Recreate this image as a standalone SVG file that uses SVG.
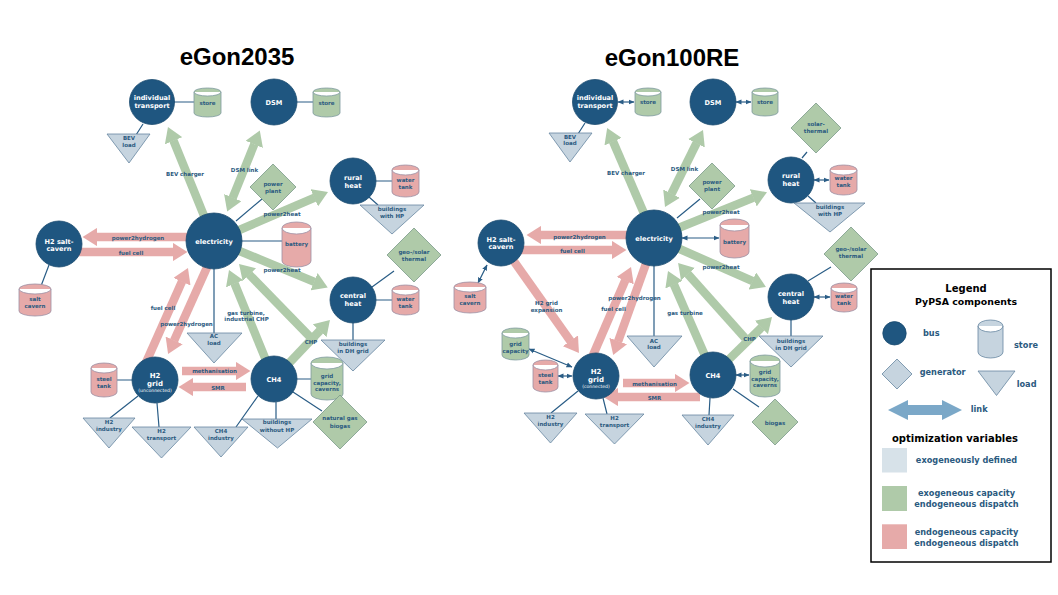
<svg xmlns="http://www.w3.org/2000/svg" width="1058" height="595" viewBox="0 0 1058 595">
<defs>
<style>
.bus{fill:#1f5680;stroke:#1a4b70;stroke-width:.8}
.gen{fill:#afcaa9;stroke:#7b9a8a;stroke-width:.8}
.load{fill:#c6d4df;stroke:#6787a1;stroke-width:.8}
.sg{fill:#afcaa9;stroke:#7f9aa0;stroke-width:.8}
.sp{fill:#e6aaa9;stroke:#9c8fa3;stroke-width:.8}
.ln{fill:none;stroke:#2a5d86;stroke-width:1.2}
.dbl{marker-start:url(#md);marker-end:url(#md)}
.ag{fill:none;stroke:#afcaa9;stroke-width:8.5;marker-end:url(#hg)}
.ag2{marker-start:url(#hg)}
.ap{fill:none;stroke:#e6aaa9;stroke-width:8.5;marker-end:url(#hp)}
text{font-family:"DejaVu Sans",Verdana,sans-serif;font-weight:bold;text-anchor:middle}
.t{font-size:5.5px;fill:#2b5a80}
.tb{font-size:6.6px;fill:#fff}
.ts{font-size:5px;font-weight:normal;fill:#fff}
.title{font-family:"Liberation Sans",Arial,sans-serif;font-size:24px;fill:#000}
.lg{font-size:8.2px;fill:#2b5a80}
.lh{font-size:10px;fill:#000}
</style>
<marker id="hg" markerUnits="strokeWidth" markerWidth="1.8" markerHeight="2.2" viewBox="0 0 1.8 2.2" refX="0.05" refY="1.1" orient="auto-start-reverse"><path d="M0,0 L1.75,1.1 L0,2.2z" fill="#afcaa9"/></marker>
<marker id="hp" markerUnits="strokeWidth" markerWidth="1.8" markerHeight="2.2" viewBox="0 0 1.8 2.2" refX="0.05" refY="1.1" orient="auto-start-reverse"><path d="M0,0 L1.75,1.1 L0,2.2z" fill="#e6aaa9"/></marker>
<marker id="md" markerUnits="userSpaceOnUse" markerWidth="6" markerHeight="6" viewBox="0 0 6 6" refX="5.5" refY="3" orient="auto-start-reverse"><path d="M0,0.5 L6,3 L0,5.5z" fill="#2a5d86"/></marker>
</defs>
<rect width="1058" height="595" fill="#fff"/>
<text class="title" x="237" y="65">eGon2035</text>
<text class="title" x="672" y="66">eGon100RE</text>

<g id="connectors">
<!-- left -->
<path class="ag" d="M211,233 L173.4,140.4"/>
<path class="ag ag2" d="M232.6,198 L254.4,144"/>
<path class="ag" d="M230,234 L314.7,197.7"/>
<path class="ag" d="M225,245 L314.4,281.9"/>
<path class="ag" d="M270,370 L234.5,283.4"/>
<path class="ag" d="M315,342 L249.1,274.4"/>
<path class="ag" d="M274,379 L320,330.5"/>
<path class="ap" d="M200,237 L97,237"/>
<path class="ap" d="M60,252 L173,252"/>
<path class="ap" d="M140,376 L182.1,281.3"/>
<path class="ap" d="M213,254 L174,340.8"/>
<path class="ap" d="M182,371 L236,371"/>
<path class="ap" d="M246,387 L193,387"/>
<path class="ln" d="M174,102 H194 M143,124 L136,135 M297,102 H313 M262,199 L236,221 M376,181 H392 M369,197 L378,205 M242,241 H282 M372,287 L394,271 M376,300 H392 M353,323 V340 M214,269 V333 M49,265 L41,286 M117,380 H132 M138,396 L110,418 M157,403 L159,427 M258,396 L236,427 M276,402 V419 M297,379 H311 M293,392 L322,411"/>
<!-- right -->
<path class="ag" d="M652,232 L612.9,141.3"/>
<path class="ag ag2" d="M671.4,194 L696.6,143"/>
<path class="ag" d="M666,233 L753.6,197.6"/>
<path class="ag" d="M666,243 L752.7,281.1"/>
<path class="ag" d="M710,367 L673.8,284.3"/>
<path class="ag" d="M745,338 L687.7,273.8"/>
<path class="ag" d="M713,375 L761.7,327.2"/>
<path class="ap" d="M640,235 L541,235"/>
<path class="ap" d="M502,250 L612,250"/>
<path class="ap" d="M501,243 L570.6,341.2"/>
<path class="ap" d="M584,376 L625.3,280.3"/>
<path class="ap" d="M650,252.6 L618.1,341.4"/>
<path class="ap" d="M623,383 L675,383"/>
<path class="ap" d="M700,397 L618,397"/>
<path class="ln dbl" d="M618,102 H634"/>
<path class="ln dbl" d="M736,102 H751"/>
<path class="ln dbl" d="M814,180 H829"/>
<path class="ln dbl" d="M682,238 H719"/>
<path class="ln dbl" d="M814,297 H830"/>
<path class="ln dbl" d="M487,265 L478,283"/>
<path class="ln dbl" d="M529,349 L572,367"/>
<path class="ln dbl" d="M558,376 H572"/>
<path class="ln dbl" d="M736,375 H749"/>
<path class="ln" d="M585,123 L578,134 M807,152 L802,158 M808,196 L816,203 M700,199 L677,218 M808,281 L831,267 M791,320 V336 M654,266 V336 M578,391 L551,413 M603,398 L607,414 M733,389 L759,407 M710,398 L709,415"/>
</g>

<!-- LEFT NODES -->
<g id="l-individual-transport"><circle class="bus" cx="152" cy="102" r="22.5"/><text class="tb" x="152" y="100">individual</text><text class="tb" x="152" y="108">transport</text></g>
<g id="l-store1"><path class="sg" d="M194,92 A13.5,4 0 0 1 221,92 V113 A13.5,4 0 0 1 194,113 Z M194,92 A13.5,4 0 0 0 221,92"/><text class="t" x="207.5" y="105">store</text></g>
<g id="l-bev-load"><polygon class="load" points="107,134 150,134 129,163"/><text class="t" x="129" y="139.5">BEV</text><text class="t" x="129" y="146.5">load</text></g>
<g id="l-dsm"><circle class="bus" cx="274" cy="102" r="23"/><text class="tb" x="274" y="104.5">DSM</text></g>
<g id="l-store2"><path class="sg" d="M313,92 A13.5,4 0 0 1 340,92 V113 A13.5,4 0 0 1 313,113 Z M313,92 A13.5,4 0 0 0 340,92"/><text class="t" x="326.5" y="105">store</text></g>
<g id="l-power-plant"><polygon class="gen" points="273,164 296,187 273,210 250,187"/><text class="t" x="273" y="186.3">power</text><text class="t" x="273" y="192.7">plant</text></g>
<g id="l-rural-heat"><circle class="bus" cx="353" cy="181" r="23"/><text class="tb" x="353" y="179.8">rural</text><text class="tb" x="353" y="187.8">heat</text></g>
<g id="l-water-tank1"><path class="sp" d="M392,170 A13.5,5 0 0 1 419,170 V192 A13.5,5 0 0 1 392,192 Z M392,170 A13.5,5 0 0 0 419,170"/><text class="t" x="405.5" y="182">water</text><text class="t" x="405.5" y="188.7">tank</text></g>
<g id="l-buildings-hp"><polygon class="load" points="360,205 424,205 392,234"/><text class="t" x="392" y="210.7">buildings</text><text class="t" x="392" y="217.7">with HP</text></g>
<g id="l-electricity"><circle class="bus" cx="214" cy="241" r="28"/><text class="tb" x="214" y="243.5">electricity</text></g>
<g id="l-battery"><path class="sp" d="M282,228 A14.5,6 0 0 1 311,228 V261 A14.5,6 0 0 1 282,261 Z M282,228 A14.5,6 0 0 0 311,228"/><text class="t" x="296.5" y="246">battery</text></g>
<g id="l-geo-solar"><polygon class="gen" points="414,228 441,255 414,282 387,255"/><text class="t" x="414" y="254.3">geo-/solar</text><text class="t" x="414" y="260.7">thermal</text></g>
<g id="l-h2-salt-cavern"><circle class="bus" cx="59" cy="244" r="23"/><text class="tb" x="59" y="243.5">H2 salt-</text><text class="tb" x="59" y="250.8">cavern</text></g>
<g id="l-salt-cavern"><path class="sp" d="M19,289 A16,5 0 0 1 51,289 V311 A16,5 0 0 1 19,311 Z M19,289 A16,5 0 0 0 51,289"/><text class="t" x="35" y="301.3">salt</text><text class="t" x="35" y="308">cavern</text></g>
<g id="l-central-heat"><circle class="bus" cx="353" cy="300" r="23"/><text class="tb" x="353" y="298">central</text><text class="tb" x="353" y="306">heat</text></g>
<g id="l-water-tank2"><path class="sp" d="M392,290 A13.5,5 0 0 1 419,290 V310 A13.5,5 0 0 1 392,310 Z M392,290 A13.5,5 0 0 0 419,290"/><text class="t" x="405.5" y="301">water</text><text class="t" x="405.5" y="307.7">tank</text></g>
<g id="l-buildings-dh"><polygon class="load" points="321,340 385,340 353,371"/><text class="t" x="353" y="346">buildings</text><text class="t" x="353" y="353">in DH grid</text></g>
<g id="l-ac-load"><polygon class="load" points="187,333 242,333 214,363"/><text class="t" x="214" y="338">AC</text><text class="t" x="214" y="344.7">load</text></g>
<g id="l-h2-grid"><circle class="bus" cx="155" cy="380" r="23"/><text class="tb" x="155" y="378" style="font-size:7px">H2</text><text class="tb" x="155" y="386.3" style="font-size:7px">grid</text><text class="ts" x="155" y="391.5" style="font-size:4.6px">(unconnected)</text></g>
<g id="l-steel-tank"><path class="sp" d="M91,368 A13,5 0 0 1 117,368 V392 A13,5 0 0 1 91,392 Z M91,368 A13,5 0 0 0 117,368"/><text class="t" x="104" y="381.3">steel</text><text class="t" x="104" y="388">tank</text></g>
<g id="l-h2-industry"><polygon class="load" points="83,418 135,418 109,448"/><text class="t" x="109" y="423.7">H2</text><text class="t" x="109" y="430.7">industry</text></g>
<g id="l-h2-transport"><polygon class="load" points="132,427 191,427 161.5,458"/><text class="t" x="161.5" y="433.3">H2</text><text class="t" x="161.5" y="440">transport</text></g>
<g id="l-ch4-industry"><polygon class="load" points="194,427 248,427 221,457"/><text class="t" x="221" y="433.3">CH4</text><text class="t" x="221" y="440">industry</text></g>
<g id="l-ch4"><circle class="bus" cx="274" cy="379" r="23"/><text class="tb" x="274" y="381.8">CH4</text></g>
<g id="l-buildings-without-hp"><polygon class="load" points="242,419 312,419 277.5,448"/><text class="t" x="277" y="424.3">buildings</text><text class="t" x="277" y="431.7">without HP</text></g>
<g id="l-grid-capacity"><path class="sg" d="M311,363 A16,6 0 0 1 343,363 V394 A16,6 0 0 1 311,394 Z M311,363 A16,6 0 0 0 343,363"/><text class="t" x="327" y="378">grid</text><text class="t" x="327" y="384.7">capacity,</text><text class="t" x="327" y="391">caverns</text></g>
<g id="l-natural-gas"><polygon class="gen" points="340,395 367,422 340,449 313,422"/><text class="t" x="340" y="420.3">natural gas</text><text class="t" x="340" y="427.7">biogas</text></g>

<!-- RIGHT NODES -->
<g id="r-individual-transport"><circle class="bus" cx="595" cy="102" r="22.5"/><text class="tb" x="595" y="100">individual</text><text class="tb" x="595" y="108">transport</text></g>
<g id="r-store1"><path class="sg" d="M635,92 A13,4 0 0 1 661,92 V112 A13,4 0 0 1 635,112 Z M635,92 A13,4 0 0 0 661,92"/><text class="t" x="648" y="104">store</text></g>
<g id="r-bev-load"><polygon class="load" points="549,133 592,133 570,162"/><text class="t" x="570" y="138.7">BEV</text><text class="t" x="570" y="145.3">load</text></g>
<g id="r-dsm"><circle class="bus" cx="713" cy="102" r="23"/><text class="tb" x="713" y="104.5">DSM</text></g>
<g id="r-store2"><path class="sg" d="M752,92 A13,4 0 0 1 778,92 V112 A13,4 0 0 1 752,112 Z M752,92 A13,4 0 0 0 778,92"/><text class="t" x="765" y="104">store</text></g>
<g id="r-solar-thermal"><polygon class="gen" points="816,103 841,128 816,153 791,128"/><text class="t" x="816" y="126">solar-</text><text class="t" x="816" y="133">thermal</text></g>
<g id="r-rural-heat"><circle class="bus" cx="791" cy="180" r="23"/><text class="tb" x="791" y="178">rural</text><text class="tb" x="791" y="186">heat</text></g>
<g id="r-water-tank1"><path class="sp" d="M830,170 A13.5,5 0 0 1 857,170 V190 A13.5,5 0 0 1 830,190 Z M830,170 A13.5,5 0 0 0 857,170"/><text class="t" x="843.5" y="180.3">water</text><text class="t" x="843.5" y="187.3">tank</text></g>
<g id="r-buildings-hp"><polygon class="load" points="794,203 865,203 830,232"/><text class="t" x="830" y="209">buildings</text><text class="t" x="830" y="216">with HP</text></g>
<g id="r-power-plant"><polygon class="gen" points="712,163 735,186 712,209 689,186"/><text class="t" x="712" y="184.3">power</text><text class="t" x="712" y="191.3">plant</text></g>
<g id="r-electricity"><circle class="bus" cx="654" cy="238" r="28"/><text class="tb" x="654" y="240.5">electricity</text></g>
<g id="r-battery"><path class="sp" d="M720,225 A14.5,6 0 0 1 749,225 V252 A14.5,6 0 0 1 720,252 Z M720,225 A14.5,6 0 0 0 749,225"/><text class="t" x="734.5" y="244.3">battery</text></g>
<g id="r-geo-solar"><polygon class="gen" points="851,227 878,254 851,281 824,254"/><text class="t" x="851" y="251.3">geo-/solar</text><text class="t" x="851" y="258">thermal</text></g>
<g id="r-h2-salt-cavern"><circle class="bus" cx="501" cy="243" r="23"/><text class="tb" x="501" y="241.5">H2 salt-</text><text class="tb" x="501" y="248.5">cavern</text></g>
<g id="r-salt-cavern"><path class="sp" d="M454,287 A16,5 0 0 1 486,287 V308 A16,5 0 0 1 454,308 Z M454,287 A16,5 0 0 0 486,287"/><text class="t" x="470" y="298">salt</text><text class="t" x="470" y="305.3">cavern</text></g>
<g id="r-central-heat"><circle class="bus" cx="791" cy="297" r="23"/><text class="tb" x="791" y="295.5">central</text><text class="tb" x="791" y="303.5">heat</text></g>
<g id="r-water-tank2"><path class="sp" d="M831,288 A13,5 0 0 1 857,288 V307 A13,5 0 0 1 831,307 Z M831,288 A13,5 0 0 0 857,288"/><text class="t" x="844" y="297.7">water</text><text class="t" x="844" y="304.7">tank</text></g>
<g id="r-buildings-dh"><polygon class="load" points="759,336 823,336 791,367"/><text class="t" x="791" y="342.7">buildings</text><text class="t" x="791" y="349.7">in DH grid</text></g>
<g id="r-ac-load"><polygon class="load" points="627,336 682,336 654,367"/><text class="t" x="654" y="342.7">AC</text><text class="t" x="654" y="349.3">load</text></g>
<g id="r-grid-capacity-h2"><path class="sg" d="M502,333 A13.5,5 0 0 1 529,333 V355 A13.5,5 0 0 1 502,355 Z M502,333 A13.5,5 0 0 0 529,333"/><text class="t" x="515.5" y="346">grid</text><text class="t" x="515.5" y="353">capacity</text></g>
<g id="r-steel-tank"><path class="sp" d="M533,365 A12.5,5 0 0 1 558,365 V387 A12.5,5 0 0 1 533,387 Z M533,365 A12.5,5 0 0 0 558,365"/><text class="t" x="545.5" y="377">steel</text><text class="t" x="545.5" y="384">tank</text></g>
<g id="r-h2-grid"><circle class="bus" cx="596" cy="376" r="23"/><text class="tb" x="596" y="374" style="font-size:7px">H2</text><text class="tb" x="596" y="382.3" style="font-size:7px">grid</text><text class="ts" x="596" y="387.8" style="font-size:4.6px">(connected)</text></g>
<g id="r-h2-industry"><polygon class="load" points="524,413 577,413 550.5,443"/><text class="t" x="550.5" y="418.7">H2</text><text class="t" x="550.5" y="426.3">industry</text></g>
<g id="r-h2-transport"><polygon class="load" points="585,414 644,414 614.5,444"/><text class="t" x="614.5" y="419.7">H2</text><text class="t" x="614.5" y="427">transport</text></g>
<g id="r-ch4"><circle class="bus" cx="713" cy="375" r="23"/><text class="tb" x="713" y="377.5">CH4</text></g>
<g id="r-grid-capacity-ch4"><path class="sg" d="M750,361 A15,6 0 0 1 780,361 V391 A15,6 0 0 1 750,391 Z M750,361 A15,6 0 0 0 780,361"/><text class="t" x="765" y="373.7">grid</text><text class="t" x="765" y="380.7">capacity,</text><text class="t" x="765" y="387.3">caverns</text></g>
<g id="r-ch4-industry"><polygon class="load" points="682,415 734,415 708,445"/><text class="t" x="708" y="421">CH4</text><text class="t" x="708" y="427.7">industry</text></g>
<g id="r-biogas"><polygon class="gen" points="775,399 798,422 775,445 752,422"/><text class="t" x="775" y="424.5">biogas</text></g>

<g id="edge-labels">
<text class="t" x="185" y="176">BEV charger</text>
<text class="t" x="244.5" y="172">DSM link</text>
<text class="t" x="282" y="215.5">power2heat</text>
<text class="t" x="282" y="272">power2heat</text>
<text class="t" x="138" y="240">power2hydrogen</text>
<text class="t" x="131" y="255">fuel cell</text>
<text class="t" x="163" y="310">fuel cell</text>
<text class="t" x="186.5" y="326">power2hydrogen</text>
<text class="t" x="246" y="314.5">gas turbine,</text>
<text class="t" x="246.5" y="321">industrial CHP</text>
<text class="t" x="311" y="344">CHP</text>
<text class="t" x="214.5" y="373">methanisation</text>
<text class="t" x="218" y="389.5">SMR</text>
<text class="t" x="626" y="174.5">BEV charger</text>
<text class="t" x="684.5" y="170.5">DSM link</text>
<text class="t" x="721" y="214">power2heat</text>
<text class="t" x="721" y="269">power2heat</text>
<text class="t" x="579.5" y="239">power2hydrogen</text>
<text class="t" x="572.5" y="253">fuel cell</text>
<text class="t" x="546.5" y="305">H2 grid</text>
<text class="t" x="546.5" y="311.5">expansion</text>
<text class="t" x="634.5" y="299.5">power2hydrogen</text>
<text class="t" x="613.5" y="310.5">fuel cell</text>
<text class="t" x="685" y="315">gas turbine</text>
<text class="t" x="749.5" y="341">CHP</text>
<text class="t" x="654.5" y="385.5">methanisation</text>
<text class="t" x="654.5" y="399.5">SMR</text>
</g>

<g id="legend">
<rect x="871" y="269" width="180" height="293" fill="#fff" stroke="#000" stroke-width="1.5"/>
<text class="lh" x="966" y="292.3">Legend</text>
<text class="lh" x="966" y="305" style="font-size:9.4px">PyPSA components</text>
<circle class="bus" cx="894.5" cy="333.3" r="11.7"/>
<text class="lg" x="923" y="336" style="text-anchor:start">bus</text>
<path class="load" d="M978,326 A12.5,6 0 0 1 1003,326 V352 A12.5,6 0 0 1 978,352 Z M978,326 A12.5,6 0 0 0 1003,326"/>
<text class="lg" x="1014" y="348.3" style="text-anchor:start">store</text>
<polygon class="load" points="897,359 912,374 897,389 882,374"/>
<text class="lg" x="919.7" y="375" style="text-anchor:start">generator</text>
<polygon class="load" points="978,371 1015,371 996.5,395.5"/>
<text class="lg" x="1016.7" y="386.7" style="text-anchor:start">load</text>
<polygon points="888,410 908,400 908,405 942,405 942,400 962,410 942,420 942,415 908,415 908,420" fill="#7ba8c8"/>
<text class="lg" x="970.7" y="412" style="text-anchor:start">link</text>
<text class="lh" x="955" y="441.7">optimization variables</text>
<rect x="882" y="448" width="25" height="24.5" fill="#d7e2e9"/>
<text class="lg" x="966.5" y="463">exogeneously defined</text>
<rect x="882" y="486" width="25" height="25" fill="#afcaa9"/>
<text class="lg" x="966.5" y="496.3">exogeneous capacity</text>
<text class="lg" x="966.5" y="507.3">endogeneous dispatch</text>
<rect x="882" y="524.3" width="25" height="24.7" fill="#e6aaa9"/>
<text class="lg" x="966.5" y="535">endogeneous capacity</text>
<text class="lg" x="966.5" y="545.7">endogeneous dispatch</text>
</g>
</svg>
